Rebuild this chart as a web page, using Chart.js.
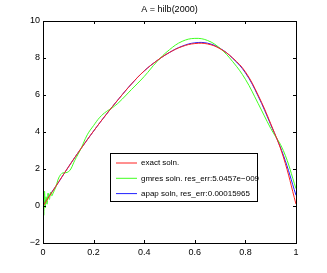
<!DOCTYPE html>
<html>
<head>
<meta charset="utf-8">
<script src="https://cdn.jsdelivr.net/npm/chart.js@4.4.1/dist/chart.umd.min.js"></script>
<style>
  html, body { margin: 0; padding: 0; background: #fff; }
  #wrap { width: 327px; height: 273px; }
</style>
</head>
<body>
<div id="wrap"><canvas id="solnChart" width="327" height="273"></canvas></div>
<script>
// Datos
const titleText = 'A = hilb(2000)';
const seriesNames = ['exact soln.', 'gmres soln. res_err:5.0457e\u2212009', 'apap soln, res_err:0.00015965'];

const xExact = [0, 0.05, 0.1, 0.15, 0.2, 0.25, 0.3, 0.35, 0.4, 0.45, 0.5, 0.55, 0.6, 0.65, 0.7, 0.75, 0.8, 0.85, 0.9, 0.95, 1];
const yExact = [0, 1.05, 2.1, 3.1, 4.05, 4.95, 5.8, 6.6, 7.3, 7.85, 8.3, 8.62, 8.78, 8.76, 8.5, 8.0, 7.25, 6.0, 4.45, 2.65, 0.1];

const xApap = [0, 0.05, 0.1, 0.15, 0.2, 0.25, 0.3, 0.35, 0.4, 0.45, 0.5, 0.55, 0.6, 0.65, 0.7, 0.75, 0.8, 0.85, 0.9, 0.95, 1];
const yApap = [0.1, 1.05, 2.1, 3.1, 4.05, 4.95, 5.8, 6.6, 7.3, 7.85, 8.3, 8.64, 8.82, 8.8, 8.52, 7.98, 7.2, 5.95, 4.4, 2.75, 0.58];

const xGmres = [0, 0.003, 0.006, 0.009, 0.012, 0.016, 0.02, 0.025, 0.03, 0.035, 0.04, 0.05, 0.06, 0.07, 0.08, 0.09, 0.1, 0.11, 0.125,
  0.15, 0.175, 0.2, 0.225, 0.25, 0.275, 0.3, 0.35, 0.4, 0.45, 0.5, 0.55, 0.6, 0.65, 0.7, 0.75, 0.8, 0.85, 0.9, 0.95, 1];
const yGmres = [0.9, -0.5, 0.8, -0.1, 0.5, 0.1, 0.7, 0.35, 0.75, 0.55, 0.7, 1.0, 1.45, 1.7, 1.8, 1.8, 1.85, 2.0, 2.45,
  3.1, 3.85, 4.35, 4.8, 5.1, 5.32, 5.6, 6.3, 7.0, 7.8, 8.45, 8.9, 9.06, 8.95, 8.52, 7.8, 6.85, 5.55, 4.2, 3.0, 0.94];

const xTicks = [0, 0.2, 0.4, 0.6, 0.8, 1];
const yTicks = [-2, 0, 2, 4, 6, 8, 10];

const toPoints = (xs, ys) => xs.map((x, i) => ({ x: x, y: ys[i] }));
const fontFam = '"Liberation Sans", Arial, sans-serif';

// Marcas hacia dentro en los cuatro lados, caja de ejes y titulo (estilo MATLAB)
const axesBox = {
    id: 'axesBox',
    afterDatasetsDraw(chart) {
        const { ctx, chartArea: a, scales } = chart;
        ctx.save();
        ctx.strokeStyle = '#000';
        ctx.lineWidth = 1;
        ctx.beginPath();
        scales.x.ticks.forEach((t, i) => {
            const px = Math.round(scales.x.getPixelForTick(i)) + 0.5;
            ctx.moveTo(px, a.bottom); ctx.lineTo(px, a.bottom - 3);
            ctx.moveTo(px, a.top); ctx.lineTo(px, a.top + 3);
        });
        scales.y.ticks.forEach((t, i) => {
            const py = Math.round(scales.y.getPixelForTick(i)) + 0.5;
            ctx.moveTo(a.left, py); ctx.lineTo(a.left + 3, py);
            ctx.moveTo(a.right, py); ctx.lineTo(a.right - 3, py);
        });
        ctx.stroke();
        ctx.strokeRect(Math.round(a.left) + 0.5, Math.round(a.top) + 0.5,
            Math.round(a.right - a.left), Math.round(a.bottom - a.top));
        ctx.fillStyle = '#000';
        ctx.font = '9px ' + fontFam;
        ctx.textAlign = 'center';
        ctx.textBaseline = 'middle';
        ctx.fillText(titleText, (a.left + a.right) / 2, 10);
        ctx.restore();
    }
};

// Leyenda dentro del area de la grafica
const boxLegend = {
    id: 'boxLegend',
    afterDraw(chart) {
        const ctx = chart.ctx;
        const bx = 110.5, by = 153.5, bw = 147, bh = 48;
        ctx.save();
        ctx.fillStyle = '#fff';
        ctx.fillRect(bx, by, bw, bh);
        ctx.strokeStyle = '#000';
        ctx.lineWidth = 1;
        ctx.strokeRect(bx, by, bw, bh);
        ctx.font = '8px ' + fontFam;
        ctx.textBaseline = 'middle';
        ctx.fillStyle = '#000';
        chart.data.datasets.forEach((ds, i) => {
            const y = 163 + i * 15.3;
            ctx.strokeStyle = ds.borderColor;
            ctx.beginPath();
            ctx.moveTo(116, y); ctx.lineTo(137, y);
            ctx.stroke();
            ctx.fillText(ds.label, 141, y);
        });
        ctx.restore();
    }
};

const ctx = document.getElementById('solnChart').getContext('2d');
const chart = new Chart(ctx, {
    type: 'line',
    data: {
        datasets: [
            { label: seriesNames[0], data: toPoints(xExact, yExact), borderColor: '#ff2020' },
            { label: seriesNames[1], data: toPoints(xGmres, yGmres), borderColor: '#40ff20' },
            { label: seriesNames[2], data: toPoints(xApap, yApap), borderColor: '#2020ff' }
        ]
    },
    options: {
        responsive: false,
        animation: false,
        layout: { padding: { left: 0, right: 31, top: 21, bottom: 0 } },
        elements: {
            point: { radius: 0 },
            line: { borderWidth: 1, tension: 0.4, fill: false }
        },
        plugins: {
            legend: { display: false },
            tooltip: { enabled: false },
            title: { display: false }
        },
        scales: {
            x: {
                type: 'linear',
                min: 0, max: 1,
                afterBuildTicks: s => { s.ticks = xTicks.map(v => ({ value: v })); },
                afterFit: s => { s.height = 30; },
                grid: { drawOnChartArea: false, drawTicks: false },
                border: { display: false },
                ticks: {
                    padding: 4,
                    color: '#000',
                    font: { family: fontFam, size: 9 },
                    callback: v => String(v),
                    maxRotation: 0
                }
            },
            y: {
                type: 'linear',
                min: -2, max: 10,
                afterBuildTicks: s => { s.ticks = yTicks.map(v => ({ value: v })); },
                afterFit: s => { s.width = 43; },
                grid: { drawOnChartArea: false, drawTicks: false },
                border: { display: false },
                ticks: {
                    padding: 3,
                    color: '#000',
                    font: { family: fontFam, size: 9 },
                    callback: v => String(v).replace('-', '\u2212')
                }
            }
        }
    },
    plugins: [axesBox, boxLegend]
});
</script>
</body>
</html>
